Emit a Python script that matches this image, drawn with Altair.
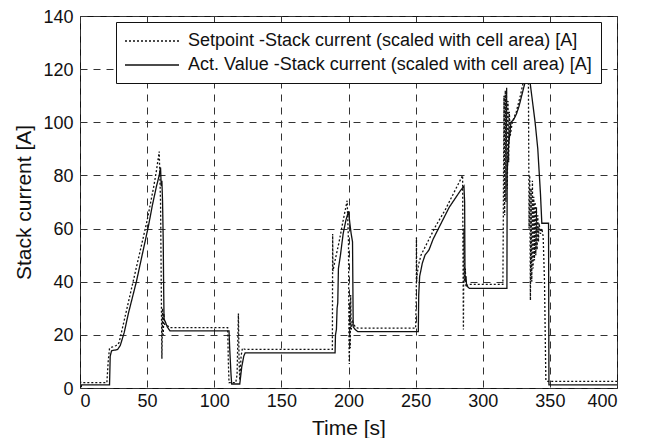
import altair as alt
import pandas as pd

# Setpoint series (dotted)
sp_t = [0, 0.5, 20, 21, 22, 27, 29, 30, 35, 40, 45, 50, 55, 57, 59,
        60, 60.5, 61, 61.5, 62, 62.5, 63, 65, 67, 110, 110.5, 111, 116, 117, 118, 118.5, 119, 120, 121, 123,
        188, 188.2, 188.4, 190, 193, 196, 199, 200, 200.3, 200.6, 201, 201.3, 201.6, 202, 203, 205, 207,
        250, 250.5, 250.6, 250.8, 251, 252, 254, 258, 265, 272, 280, 285, 285.3, 285.6, 286, 286.4, 287, 287.5, 289,
        315, 315.3, 315.8, 316.3, 316.8, 317.3, 317.8, 318.3, 318.8, 319.3, 319.8, 320.5, 322, 325, 328, 331, 333,
        334, 334.5, 335, 335.5, 336, 336.5, 337, 337.5, 338, 338.5, 339, 339.5, 340, 340.5, 341, 341.5, 342,
        343, 344, 345, 346, 347, 348, 400]
sp_v = [4, 2, 2, 10, 15, 16, 17, 19, 30, 41, 52, 63, 76, 82, 89,
        70, 40, 11, 30, 20, 28, 24, 23.5, 22.7, 22.7, 10, 2, 2, 5, 28, 10, 3, 12, 15, 14.5,
        14.5, 58, 44, 48, 55, 63, 70.5, 55, 20, 9, 30, 15, 35, 22, 25, 23, 22.5,
        22.5, 35, 56.6, 40, 42, 46, 50, 54, 61, 67, 75, 80, 50, 22, 60, 40, 45, 38, 39,
        39, 62, 110, 65, 112, 70, 113, 75, 108, 85, 104, 95, 100, 104, 110, 117, 121,
        118, 60, 80, 33, 75, 40, 78, 45, 72, 48, 70, 50, 68, 52, 65, 55, 62,
        58, 60, 57, 40, 3, 2.5, 2.5]

# Actual value series (solid)
av_t = [0, 1, 1.2, 22, 22.5, 23.5, 28, 30, 33, 36, 39, 42, 45, 48, 51, 54, 57, 59, 60, 60.5, 61, 61.5,
        62, 62.3, 62.6, 63.5, 65, 67, 111, 111.5, 112.5, 113, 119, 120.5, 122, 123,
        190, 190.3, 191, 191.5, 192, 192.5, 194, 196, 198, 200, 201, 202, 203, 203.5, 205, 207,
        252, 252.3, 253, 255, 257, 260, 263, 267, 271, 275, 279, 283, 286, 286.5, 286.8, 287.5, 288, 290,
        318, 318.2, 319, 320, 321, 323, 325, 327, 329, 331, 333, 335, 337, 339, 341, 343, 344, 349, 349.3, 400]
av_v = [0.5, 0.5, 1.2, 1.2, 12, 14, 14.5, 16, 21, 28, 34, 40, 47, 54, 61, 69, 76, 80, 83, 76, 78, 70,
        55, 38, 26, 25, 23, 21.5, 21.5, 15, 5, 1.5, 1.5, 8, 12, 13.2,
        13.2, 20, 22, 30, 32, 45, 50, 58, 63, 66.5, 62, 58, 55, 23, 22, 21.2,
        21.2, 35, 42, 47, 50, 52, 56, 60, 64, 68, 71, 74, 76, 70, 40, 42, 38.5, 37.5,
        37.5, 81, 90, 95, 100, 101, 103, 106, 110, 114, 118, 116, 108, 100, 90, 73, 62, 62, 1.2, 1.2]

s1 = "Setpoint -Stack current (scaled with cell area) [A]"
s2 = "Act. Value -Stack current (scaled with cell area) [A]"

rows = []
for i, (t, v) in enumerate(zip(sp_t, sp_v)):
    rows.append({"t": t, "v": v, "series": s1, "idx": i})
for i, (t, v) in enumerate(zip(av_t, av_v)):
    rows.append({"t": t, "v": v, "series": s2, "idx": i})
df = pd.DataFrame(rows)

FONT = "Liberation Sans"

chart = alt.Chart(df).mark_line(strokeWidth=1.3, color="#111111", clip=True).encode(
    x=alt.X("t:Q", title="Time [s]",
            scale=alt.Scale(domain=[0, 400], nice=False),
            axis=alt.Axis(values=list(range(0, 401, 50)), labelFontSize=18, titleFontSize=21,
                          labelPadding=4, titlePadding=7)),
    y=alt.Y("v:Q", title="Stack current [A]",
            scale=alt.Scale(domain=[0, 140], nice=False),
            axis=alt.Axis(values=list(range(0, 141, 20)), labelFontSize=18, titleFontSize=21,
                          labelPadding=7, titlePadding=8, labelOffset=1)),
    strokeDash=alt.StrokeDash("series:N",
                              scale=alt.Scale(domain=[s1, s2], range=[[2, 2], [1, 0]]),
                              legend=alt.Legend(title=None, orient="none", legendX=36, legendY=6,
                                                symbolType="M-3,0H3", symbolSize=324,
                                                symbolOffset=17,
                                                symbolStrokeWidth=1.5, symbolStrokeColor="#111111",
                                                labelFontSize=18, labelFont=FONT, labelColor="#111111",
                                                strokeColor="#111111", fillColor="white",
                                                padding=9, rowPadding=5, labelOffset=26,
                                                labelLimit=0)),
    order="idx:Q",
).properties(
    width=537, height=372,
    autosize=alt.AutoSizeParams(type="none"),
    padding={"left": 72, "top": 8, "right": 20, "bottom": 50},
).configure_view(
    stroke="#111111", strokeWidth=1
).configure_axis(
    grid=True, gridDash=[7, 6], gridColor="#333333", gridWidth=1, gridOpacity=1,
    domain=False, ticks=False, labelFont=FONT, titleFont=FONT,
    labelColor="#111111", titleColor="#111111", titleFontWeight="normal",
)

chart.save("out.html", embed_options={"renderer": "svg", "actions": False})
